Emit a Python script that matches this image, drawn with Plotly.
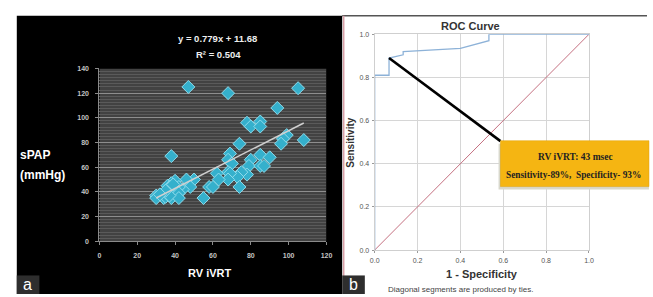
import plotly.graph_objects as go

W, H = 653, 297

# ---------------- data ----------------
# Panel a: RV iVRT vs sPAP scatter
rv_ivrt = [47, 105, 68, 94, 78, 85, 80, 85, 99, 97, 108, 96, 74, 38, 85, 90, 80, 69, 68, 70,
           79, 85, 87, 78, 75, 73, 68, 69, 62, 68, 63, 58, 60, 74, 55, 50, 46, 48, 44, 40,
           38, 36, 37, 42, 40, 42, 30, 30, 34, 35, 38, 42, 37, 35, 32, 39]
spap = [125, 124, 120, 108, 96, 97, 93, 93, 86, 83, 82, 79, 79, 69, 70, 68, 66, 71, 66, 63,
        61, 61, 61, 54, 56, 52, 56, 55, 55, 50, 50, 44, 44, 44, 35, 50, 50, 44, 42, 49,
        47, 45, 44, 44, 41, 39, 37, 35, 35, 36, 35, 35, 37, 41, 38, 46]
fit_slope, fit_intercept = 0.779, 11.68
fit_x = [30, 108]
fit_y = [fit_slope * v + fit_intercept for v in fit_x]

# Panel b: ROC curve
roc_fpr = [0.0, 0.0, 0.067, 0.067, 0.133, 0.133, 0.4, 0.533, 0.533, 1.0]
roc_tpr = [0.0, 0.81, 0.81, 0.89, 0.905, 0.92, 0.935, 0.97, 1.0, 1.0]
ref_line = [0.0, 1.0]
cut_point = (0.067, 0.89)
callout_anchor = (0.587, 0.505)


def px(x):
    return x / W


def py(y):
    return 1 - y / H


fig = go.Figure()

# ---------- panel a traces ----------
fig.add_trace(go.Scatter(
    x=rv_ivrt, y=spap, mode="markers", xaxis="x", yaxis="y",
    marker=dict(symbol="diamond", size=10, color="#35b0cc",
                line=dict(color="#8fdcec", width=1)),
    showlegend=False, hoverinfo="skip"))
fig.add_trace(go.Scatter(
    x=fit_x, y=fit_y, mode="lines", xaxis="x", yaxis="y",
    line=dict(color="#d0d0d0", width=1.5), showlegend=False, hoverinfo="skip"))

# ---------- panel b traces ----------
fig.add_trace(go.Scatter(
    x=ref_line, y=ref_line, mode="lines", xaxis="x2", yaxis="y2",
    line=dict(color="#c47080", width=1), showlegend=False, hoverinfo="skip"))
fig.add_trace(go.Scatter(
    x=roc_fpr, y=roc_tpr, mode="lines", xaxis="x2", yaxis="y2",
    line=dict(color="#8db2d8", width=1.3), showlegend=False, hoverinfo="skip"))
fig.add_trace(go.Scatter(
    x=[cut_point[0], callout_anchor[0]], y=[cut_point[1], callout_anchor[1]],
    mode="lines", xaxis="x2", yaxis="y2",
    line=dict(color="#000000", width=2.6), showlegend=False, hoverinfo="skip"))

shapes = [
    # panel a black background
    dict(type="rect", xref="paper", yref="paper", x0=px(12), x1=px(343), y0=0, y1=py(12),
         fillcolor="#000000", line=dict(width=0), layer="below"),
    # panel a plot area
    dict(type="rect", xref="x", yref="y", x0=0, x1=120, y0=0, y1=140,
         fillcolor="#424242", line=dict(width=0), layer="below"),
    # panel b borders
    dict(type="line", xref="paper", yref="paper", x0=px(343), x1=1, y0=py(12), y1=py(12),
         line=dict(color="#555555", width=1.5)),
    dict(type="line", xref="paper", yref="paper", x0=px(344.5), x1=px(344.5), y0=0, y1=py(12),
         line=dict(color="#d9a0a8", width=1.5)),
    # callout shadow and box
    dict(type="rect", xref="paper", yref="paper", x0=px(502), x1=px(655), y0=py(190), y1=py(143),
         fillcolor="#d8d8cc", line=dict(width=0)),
    dict(type="rect", xref="paper", yref="paper", x0=px(504), x1=px(655), y0=py(187), y1=py(140),
         fillcolor="#f5b512", line=dict(color="#e0a000", width=0.5)),
    # panel labels boxes
    dict(type="rect", xref="paper", yref="paper", x0=px(12), x1=px(35), y0=0, y1=py(278),
         fillcolor="#2e2e2e", line=dict(width=0)),
    dict(type="rect", xref="paper", yref="paper", x0=px(343), x1=px(366), y0=0, y1=py(278),
         fillcolor="#2e2e2e", line=dict(width=0)),
]

sans = "Arial, Liberation Sans, sans-serif"
serif = "Liberation Serif, Times New Roman, DejaVu Serif, serif"
ann = []


def add_text(t, x, y, size, color, family=sans, angle=0,
             xanchor="center", yanchor="middle"):
    ann.append(dict(text=t, x=px(x), y=py(y), xref="paper", yref="paper", showarrow=False,
                    xanchor=xanchor, yanchor=yanchor, textangle=angle,
                    font=dict(size=size, color=color, family=family)))


add_text("<b>y = 0.779x + 11.68</b>", 216, 35, 9.5, "#eeeeee")
add_text("<b>R² = 0.504</b>", 217, 52, 9.5, "#eeeeee")
add_text("<b>sPAP</b>", 31, 155, 12, "#ffffff")
add_text("<b>(mmHg)</b>", 38, 175, 12, "#ffffff")
add_text("<b>RV iVRT</b>", 208, 275, 11, "#ffffff")
add_text("a", 23, 287, 16, "#ffffff")
add_text("b", 354, 287, 16, "#ffffff")

add_text("<b>ROC Curve</b>", 473, 23, 11, "#333333")
add_text("<b>Sensitivity</b>", 352, 142, 10, "#333333", angle=-90)
add_text("<b>1 - Specificity</b>", 485, 277, 11, "#333333")
add_text("Diagonal segments are produced by ties.", 463, 292, 8, "#444444")
add_text("<b>RV iVRT: 43 msec</b>", 580, 157, 9.5, "#222222", serif)
add_text("<b>Sensitivity-89%,  Specificity- 93%</b>", 578, 175, 9.3, "#222222", serif)

tick_a = dict(size=7, color="#c4c4c4", family=sans, weight="bold")

fig.update_layout(
    width=W, height=H, margin=dict(l=0, r=0, t=0, b=0),
    paper_bgcolor="#ffffff", plot_bgcolor="rgba(0,0,0,0)",
    shapes=shapes, annotations=ann, showlegend=False,
    xaxis=dict(domain=[px(96), px(327)], range=[0, 120], dtick=20, anchor="y",
               showgrid=False, zeroline=False, showline=True, linecolor="#8a8a8a",
               ticks="outside", ticklen=3, tickcolor="#8a8a8a", ticklabelstandoff=4,
               tickfont=tick_a),
    yaxis=dict(domain=[py(243), py(66)], range=[0, 140], dtick=20, anchor="x",
               showgrid=True, gridcolor="#8e8e8e", gridwidth=1, zeroline=False,
               minor=dict(dtick=2.5, showgrid=True, gridcolor="#5a5a5a", gridwidth=1),
               showline=True, linecolor="#8a8a8a", ticks="outside", ticklen=3,
               tickcolor="#8a8a8a", ticklabelstandoff=5,
               tickfont=tick_a),
    xaxis2=dict(domain=[px(376), px(594)], range=[0, 1], dtick=0.2, tickformat=".1f",
                anchor="y2", showgrid=True, gridcolor="#d6d6d6", zeroline=False,
                showline=True, mirror=True, linecolor="#cfcfcf", ticks="outside",
                ticklen=2, tickcolor="#999999", ticklabelstandoff=2,
                tickfont=dict(size=7, color="#555555", family=sans)),
    yaxis2=dict(domain=[py(252), py(31)], range=[0, 1], dtick=0.2, tickformat=".1f",
                anchor="x2", showgrid=True, gridcolor="#d6d6d6", zeroline=False,
                showline=True, mirror=True, linecolor="#cfcfcf", ticks="outside",
                ticklen=2, tickcolor="#999999", ticklabelstandoff=1,
                tickfont=dict(size=7, color="#555555", family=sans)),
)

fig.write_html("out.html", config={"displayModeBar": False},
               post_script="document.body.style.margin='0';document.body.style.overflow='hidden';")
